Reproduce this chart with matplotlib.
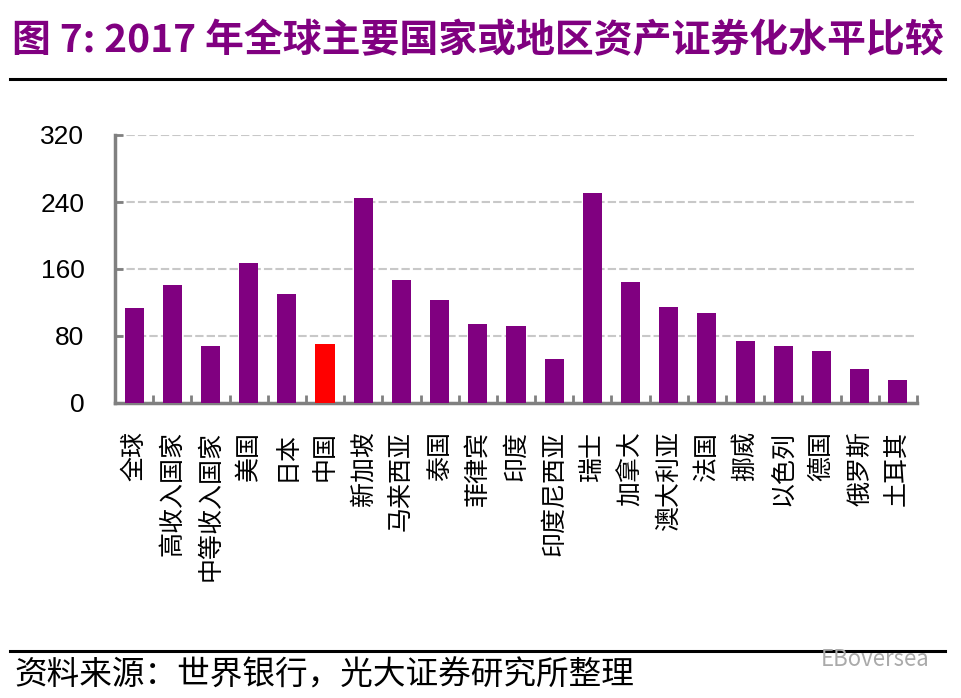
import matplotlib.pyplot as plt
from matplotlib.lines import Line2D

plt.rcParams['font.family'] = ['Noto Sans CJK SC', 'DejaVu Sans']

# 数据
countries = ['全球', '高收入国家', '中等收入国家', '美国', '日本', '中国', '新加坡',
             '马来西亚', '泰国', '菲律宾', '印度', '印度尼西亚', '瑞士', '加拿大',
             '澳大利亚', '法国', '挪威', '以色列', '德国', '俄罗斯', '土耳其']
values = [114, 140.5, 68, 167, 130, 71, 245, 146.5, 122.5, 94, 91.5, 53, 251,
          145, 115, 108, 73.5, 67.5, 62.5, 41, 28]
yticks = [0, 80, 160, 240, 320]

purple = '#800080'
grey = '#808080'

fig = plt.figure(figsize=(9.62, 6.98), dpi=100)
ax = fig.add_axes([115 / 962, 1 - 403 / 698, 802 / 962, 268 / 698])

x = list(range(len(countries)))
colors = ['#FF0000' if c == '中国' else purple for c in countries]
ax.bar(x, values, width=0.5, color=colors, zorder=3)

ax.set_xlim(-0.5, len(countries) - 0.5)
ax.set_ylim(0, 320)
ax.set_yticks(yticks)
ax.set_yticklabels([str(t) for t in yticks], fontsize=19, family='Liberation Sans')
ax.yaxis.grid(True, color='#C8C8C8', linestyle=(0, (4, 1.5)), linewidth=1.5, zorder=0)

# 分类边界刻度
ax.set_xticks([i + 0.5 for i in x])
ax.set_xticklabels([])
ax.tick_params(axis='x', direction='in', length=6, width=2, color=grey)
ax.tick_params(axis='y', direction='in', length=6, width=2, color=grey, pad=22)

for s in ['top', 'right']:
    ax.spines[s].set_visible(False)
for s in ['left', 'bottom']:
    ax.spines[s].set_color(grey)
    ax.spines[s].set_linewidth(2.5)

# 竖排标签（旋转90度）
for i, c in enumerate(countries):
    ax.annotate(c, xy=(i, 0), xytext=(0, -20), textcoords='offset points',
                rotation=90, ha='center', va='top', fontsize=18)

# 标题与分隔线
fig.text(12 / 962, 1 - 41 / 698, '图 7: 2017 年全球主要国家或地区资产证券化水平比较',
         fontsize=28, fontweight='bold', color=purple, va='center', ha='left')
fig.add_artist(Line2D([10 / 962, 945 / 962], [1 - 79 / 698, 1 - 79 / 698],
                      color='black', linewidth=2.2))
fig.add_artist(Line2D([10 / 962, 945 / 962], [1 - 651 / 698, 1 - 651 / 698],
                      color='black', linewidth=2.2))
fig.text(14 / 962, 1 - 676 / 698, '资料来源：世界银行，光大证券研究所整理',
         fontsize=23.5, color='black', va='center', ha='left')
fig.text(930 / 962, 1 - 660 / 698, 'EBoversea', fontsize=16, color='#AAAAAA',
         va='center', ha='right')

fig.savefig('out.png', dpi=100)
